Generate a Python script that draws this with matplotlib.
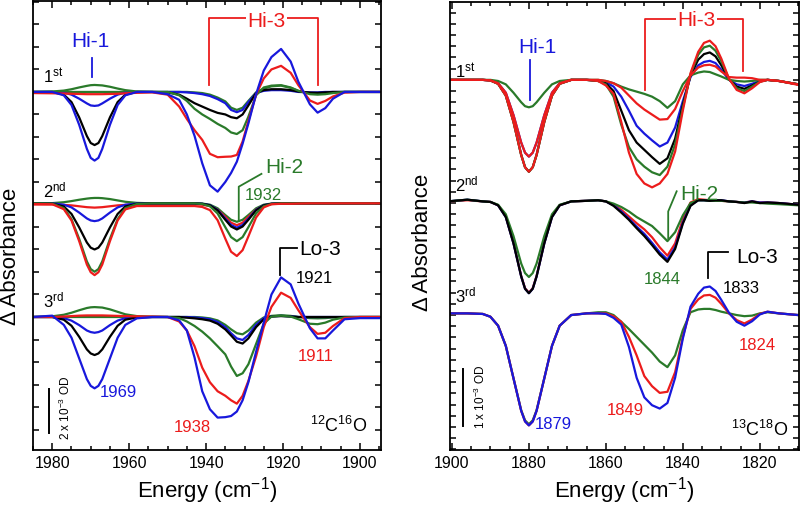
import numpy as np
import matplotlib
matplotlib.use("Agg")
import matplotlib.pyplot as plt
from matplotlib.ticker import MultipleLocator

plt.rcParams['font.family'] = ['Liberation Sans', 'DejaVu Sans']
plt.rcParams['mathtext.default'] = 'regular'

BLUE = '#1818dc'
RED = '#ec1c1c'
GREEN = '#2a7a2a'
BLACK = '#000000'

# ---------------- left panel (12C16O), energy grid in cm-1 ----------------
left_x = [1985, 1980, 1977, 1975, 1973, 1971, 1970, 1969, 1968, 1967, 1965, 1963, 1961, 1958, 1954,
          1950, 1947, 1945, 1943, 1941, 1939, 1937, 1935, 1933.5, 1932, 1930.5, 1929, 1927, 1925, 1923,
          1920.5, 1918, 1916, 1913, 1911, 1909, 1907, 1904, 1900, 1895]

# 1st spectra (units of 1e-3 OD)
l1_blue_a = ([0, 0, -0.15, -0.58, -1.46, -2.53, -2.93, -3.05, -2.93, -2.53, -1.46, -0.58, -0.15, 0, 0]
             + [-0.1, -0.35, -1.0, -1.95, -3.17, -4.15, -4.43, -4.0, -3.6, -3.1, -2.3, -1.4, -0.1, 0.95, 1.55]
             + [1.91, 1.35, 0.45, -0.55, -0.92, -0.72, -0.3, 0, 0, 0])
l1_red_a = ([-0.05, -0.06, -0.07, -0.08, -0.09, -0.1, -0.1, -0.1, -0.1, -0.1, -0.09, -0.08, -0.06, -0.04, -0.02]
            + [-0.12, -0.65, -1.2, -1.7, -2.13, -2.75, -2.9, -2.88, -2.87, -2.8, -2.2, -1.3, -0.12, 0.6, 1.0]
            + [1.16, 0.85, 0.3, -0.38, -0.53, -0.4, -0.2, -0.03, 0, 0])
l1_green_a = ([0, 0.02, 0.06, 0.12, 0.2, 0.27, 0.3, 0.31, 0.3, 0.29, 0.23, 0.15, 0.08, 0.02, 0]
              + [0, -0.15, -0.4, -0.75, -1.0, -1.2, -1.42, -1.6, -1.8, -1.87, -1.7, -1.1, -0.15, 0.2, 0.28]
              + [0.3, 0.2, 0.05, -0.1, -0.12, -0.1, -0.05, 0, 0, 0])
l1_black = ([0, 0, -0.12, -0.45, -1.13, -1.96, -2.27, -2.36, -2.27, -1.96, -1.13, -0.45, -0.12, 0, 0]
            + [-0.02, -0.12, -0.3, -0.5, -0.65, -0.8, -0.93, -1.0, -1.12, -1.17, -1.0, -0.6, -0.05, 0.08, 0.12]
            + [0.12, 0.08, 0.02, -0.03, -0.04, -0.02, 0, 0, 0, 0])
l1_blue_b = ([0, 0, -0.03, -0.12, -0.3, -0.51, -0.6, -0.62, -0.6, -0.51, -0.3, -0.12, -0.03, 0, 0]
             + [0, 0, -0.02, -0.05, -0.1, -0.18, -0.32, -0.5, -0.8, -0.9, -0.8, -0.45, -0.05, 0.05, 0.08]
             + [0.08, 0.05, 0, -0.02, -0.02, 0, 0, 0, 0, 0])
l1_green_b = ([0, 0, 0, 0, 0, 0, 0, 0, 0, 0, 0, 0, 0, 0, 0]
              + [0, 0, 0, -0.02, -0.05, -0.12, -0.25, -0.42, -0.7, -0.8, -0.7, -0.4, -0.02, 0.15, 0.25]
              + [0.28, 0.18, 0.05, -0.05, -0.06, -0.04, -0.02, 0, 0, 0])

# 2nd spectra
l2_green_a = ([0, 0.01, 0.05, 0.1, 0.16, 0.21, 0.23, 0.24, 0.24, 0.23, 0.19, 0.13, 0.07, 0.02, 0]
              + [0, 0, 0, 0, -0.01, -0.06, -0.22, -0.52, -0.73, -0.82, -0.73, -0.52, -0.22, -0.06, -0.01]
              + [0, 0, 0, 0, 0, 0, 0, 0, 0, 0])
l2_red_a = ([-0.05, -0.05, -0.07, -0.09, -0.13, -0.17, -0.18, -0.19, -0.18, -0.17, -0.13, -0.09, -0.07, -0.05, -0.04]
            + [-0.03, -0.03, -0.03, -0.04, -0.06, -0.12, -0.28, -0.6, -0.86, -0.97, -0.86, -0.6, -0.28, -0.1, -0.03]
            + [-0.02, -0.01, 0, 0, 0, 0, 0, 0, 0, 0])
l2_blue_b = ([0, 0, -0.06, -0.18, -0.41, -0.67, -0.76, -0.79, -0.76, -0.67, -0.41, -0.18, -0.06, -0.01, 0]
             + [0, 0, 0, 0, -0.02, -0.08, -0.29, -0.68, -0.96, -1.08, -0.96, -0.68, -0.29, -0.08, -0.02]
             + [0, 0, 0, 0, 0, 0, 0, 0, 0, 0])
l2_black = ([0, -0.01, -0.14, -0.47, -1.07, -1.74, -1.97, -2.05, -1.97, -1.74, -1.07, -0.47, -0.14, -0.02, 0]
            + [0, 0, 0, 0, -0.02, -0.09, -0.31, -0.73, -1.03, -1.16, -1.03, -0.73, -0.31, -0.09, -0.02]
            + [0, 0, 0, 0, 0, 0, 0, 0, 0, 0])
l2_green_b = ([0, -0.01, -0.21, -0.7, -1.58, -2.58, -2.92, -3.04, -2.92, -2.58, -1.58, -0.7, -0.21, -0.03, 0]
              + [0, 0, 0, 0, -0.03, -0.13, -0.45, -1.06, -1.5, -1.68, -1.5, -1.06, -0.45, -0.13, -0.03]
              + [0, 0, 0, 0, 0, 0, 0, 0, 0, 0])
l2_red_b = ([-0.03, -0.04, -0.26, -0.76, -1.68, -2.72, -3.06, -3.19, -3.06, -2.72, -1.68, -0.76, -0.27, -0.12, -0.12]
            + [-0.12, -0.12, -0.12, -0.12, -0.16, -0.3, -0.75, -1.57, -2.15, -2.34, -2.08, -1.47, -0.63, -0.18, -0.04]
            + [-0.02, -0.02, -0.01, 0, 0, 0, 0, 0, 0, 0])

# 3rd spectra
l3_blue_a = ([0, 0.06, -0.35, -0.92, -1.84, -2.76, -3.06, -3.17, -3.06, -2.76, -1.84, -0.92, -0.35, -0.06, 0]
             + [0, -0.15, -0.6, -1.8, -3.3, -4.1, -4.47, -4.45, -4.4, -4.2, -3.7, -2.9, -1.55, -0.25, 1.0]
             + [1.76, 1.45, 0.6, -0.5, -0.95, -0.95, -0.6, -0.1, -0.05, -0.05])
l3_red_a = ([0, 0, 0.02, 0.04, 0.06, 0.07, 0.07, 0.07, 0.07, 0.07, 0.06, 0.05, 0.04, 0.03, 0.02]
            + [0, -0.2, -0.6, -1.3, -2.25, -2.9, -3.3, -3.5, -3.7, -3.85, -3.5, -2.84, -1.75, -0.45, 0.45]
            + [1.08, 0.85, 0.3, -0.45, -0.75, -0.7, -0.4, -0.05, 0, 0])
l3_green_a = ([0, 0.03, 0.1, 0.19, 0.3, 0.4, 0.43, 0.44, 0.43, 0.42, 0.34, 0.23, 0.12, 0.04, 0.01]
              + [0, -0.05, -0.2, -0.4, -0.65, -0.95, -1.3, -1.66, -2.2, -2.62, -2.5, -2.1, -1.2, -0.3, 0.02]
              + [0.06, 0.02, -0.1, -0.3, -0.32, -0.25, -0.12, -0.02, 0, 0])
l3_black = ([0, 0, -0.12, -0.39, -0.88, -1.44, -1.62, -1.69, -1.62, -1.44, -0.88, -0.39, -0.12, -0.02, 0]
            + [0, 0, -0.03, -0.06, -0.1, -0.16, -0.3, -0.55, -0.82, -1.1, -1.18, -0.95, -0.45, -0.1, 0.02]
            + [0.04, 0.02, 0, 0, 0, 0, 0, 0, 0, 0])
l3_blue_b = ([0, 0, -0.05, -0.16, -0.36, -0.6, -0.67, -0.7, -0.67, -0.6, -0.36, -0.16, -0.05, -0.01, 0]
             + [0, 0, 0, -0.02, -0.05, -0.1, -0.22, -0.45, -0.72, -0.95, -1.02, -0.8, -0.35, -0.05, 0.03]
             + [0.05, 0.03, 0, 0, 0, 0, 0, 0, 0, 0])
l3_green_b = ([0, 0, 0, 0, 0, 0, 0, 0, 0, 0, 0, 0, 0, 0, 0]
              + [0, 0, 0, 0, -0.02, -0.06, -0.15, -0.35, -0.55, -0.72, -0.77, -0.6, -0.25, -0.02, 0.05]
              + [0.08, 0.05, 0, -0.05, -0.06, -0.05, -0.02, 0, 0, 0])

# ---------------- right panel (13C18O) ----------------
right_x = [1901, 1896, 1892, 1890, 1888, 1886, 1884, 1882, 1881, 1880, 1879, 1878, 1876, 1874, 1872, 1869, 1865,
           1862, 1860, 1858, 1856, 1854, 1852, 1850, 1848, 1846, 1844, 1842, 1840, 1838, 1836,
           1834.5, 1833, 1831.5, 1830, 1828, 1826, 1824, 1822, 1820, 1818, 1815, 1810]

r1_red_b = ([0, 0, 0, -0.01, -0.07, -0.28, -0.75, -1.34, -1.56, -1.64, -1.56, -1.34, -0.75, -0.28, -0.07, 0, 0]
            + [-0.02, -0.1, -0.25, -0.75, -1.3, -1.68, -1.85, -1.92, -1.85, -1.68, -1.28, -0.55, 0.12, 0.5,
               0.66, 0.7, 0.6, 0.38, 0.02, -0.18, -0.24, -0.15, -0.04, 0, -0.02, -0.09])
r1_green_b = ([0, 0, 0, -0.01, -0.07, -0.28, -0.75, -1.34, -1.56, -1.64, -1.56, -1.34, -0.75, -0.28, -0.07, 0, 0]
              + [-0.02, -0.08, -0.3, -0.8, -1.2, -1.42, -1.55, -1.65, -1.7, -1.55, -1.15, -0.5, 0.1, 0.45,
                 0.58, 0.61, 0.52, 0.33, 0.02, -0.15, -0.2, -0.12, -0.03, 0, -0.02, -0.08])
r1_black = ([0, 0, 0, -0.01, -0.07, -0.28, -0.75, -1.34, -1.56, -1.64, -1.56, -1.34, -0.75, -0.28, -0.07, 0, 0]
            + [-0.02, -0.06, -0.2, -0.55, -0.9, -1.12, -1.25, -1.38, -1.5, -1.4, -1.05, -0.45, 0.08, 0.36,
               0.46, 0.49, 0.42, 0.26, 0.01, -0.12, -0.16, -0.1, -0.03, 0, -0.02, -0.08])
r1_blue = ([0, 0, 0, -0.01, -0.06, -0.23, -0.63, -1.12, -1.3, -1.37, -1.3, -1.12, -0.63, -0.23, -0.06, 0, 0]
           + [-0.01, -0.04, -0.12, -0.3, -0.55, -0.82, -0.96, -1.08, -1.19, -1.12, -0.85, -0.38, 0.05, 0.26,
              0.32, 0.34, 0.3, 0.18, 0, -0.08, -0.11, -0.07, -0.02, 0, -0.02, -0.08])
r1_red_a = ([0, 0, 0, -0.01, -0.06, -0.23, -0.63, -1.12, -1.3, -1.37, -1.3, -1.12, -0.63, -0.23, -0.06, 0, 0]
            + [0, -0.02, -0.06, -0.14, -0.28, -0.42, -0.53, -0.62, -0.71, -0.7, -0.52, -0.2, 0.08, 0.22,
               0.26, 0.27, 0.24, 0.15, 0.05, 0.04, 0.04, 0.03, 0, 0, -0.02, -0.08])
r1_green_a = ([0, 0, 0, 0, -0.02, -0.08, -0.23, -0.4, -0.47, -0.49, -0.47, -0.4, -0.23, -0.08, -0.02, 0, 0]
              + [0, -0.02, -0.06, -0.12, -0.17, -0.21, -0.25, -0.3, -0.38, -0.5, -0.38, -0.08, 0.08, 0.13,
                 0.15, 0.14, 0.1, 0.06, 0, -0.02, -0.03, -0.02, 0, 0, -0.02, -0.08])

r2_red = ([0, 0.02, 0, -0.01, -0.07, -0.27, -0.74, -1.33, -1.55, -1.63, -1.55, -1.33, -0.74, -0.27, -0.07, 0, 0.01]
          + [0.02, 0, -0.06, -0.15, -0.27, -0.39, -0.5, -0.64, -0.82, -0.97, -0.75, -0.32, -0.02, 0.04,
             0.03, 0.02, 0.02, 0.01, 0, -0.01, -0.02, 0, -0.02, -0.02, -0.03, -0.06])
r2_blue = ([0, 0.03, 0, -0.01, -0.07, -0.28, -0.75, -1.34, -1.56, -1.64, -1.56, -1.34, -0.75, -0.28, -0.07, 0, 0.01]
           + [0.02, 0, -0.07, -0.18, -0.31, -0.45, -0.58, -0.74, -0.91, -1.04, -0.82, -0.38, -0.07, 0.02,
              0.02, 0.01, 0.02, 0.02, 0, -0.01, -0.02, 0, -0.02, -0.02, -0.03, -0.06])
r2_green = ([0, 0.03, 0, -0.01, -0.06, -0.23, -0.62, -1.11, -1.28, -1.35, -1.28, -1.11, -0.62, -0.23, -0.06, 0, 0.01]
            + [0.02, 0, -0.04, -0.1, -0.18, -0.28, -0.36, -0.44, -0.57, -0.71, -0.55, -0.25, -0.03, 0.02,
               0.02, 0.01, 0.01, 0.01, 0, -0.01, -0.02, -0.02, -0.03, -0.04, -0.05, -0.07])
r2_black = ([0, 0.03, 0, -0.01, -0.07, -0.28, -0.75, -1.34, -1.56, -1.64, -1.56, -1.34, -0.75, -0.28, -0.07, 0, 0.01]
            + [0.02, 0, -0.08, -0.2, -0.33, -0.48, -0.62, -0.78, -0.95, -1.08, -0.85, -0.4, -0.08, 0.02,
               0.02, 0.01, 0.02, 0.02, 0, -0.01, -0.03, 0, -0.03, -0.02, -0.03, -0.06])

r3_green = ([0, 0, -0.01, -0.06, -0.22, -0.58, -1.16, -1.73, -1.91, -1.98, -1.91, -1.73, -1.16, -0.58, -0.22, -0.03, 0]
            + [0.02, 0.02, -0.03, -0.15, -0.28, -0.42, -0.56, -0.7, -0.86, -0.96, -0.75, -0.3, 0.02, 0.07,
               0.08, 0.08, 0.06, 0.03, 0, -0.03, -0.05, -0.04, 0, 0.02, 0, -0.03])
r3_red = ([0, 0, -0.01, -0.06, -0.22, -0.58, -1.16, -1.74, -1.93, -2.0, -1.93, -1.74, -1.16, -0.58, -0.22, -0.03, 0]
          + [0, 0, -0.05, -0.15, -0.42, -0.75, -1.12, -1.3, -1.42, -1.4, -1.05, -0.42, 0.08, 0.25,
             0.32, 0.33, 0.28, 0.17, 0, -0.12, -0.18, -0.11, -0.01, 0.03, 0, -0.03])
r3_blue = ([0, 0, -0.01, -0.06, -0.22, -0.58, -1.16, -1.74, -1.93, -2.0, -1.93, -1.74, -1.16, -0.58, -0.22, -0.03, 0]
           + [0, -0.01, -0.08, -0.2, -0.6, -1.15, -1.5, -1.64, -1.7, -1.6, -1.15, -0.45, 0.12, 0.35,
              0.46, 0.48, 0.4, 0.24, 0.01, -0.15, -0.22, -0.14, -0.02, 0.03, 0, -0.03])

# vertical offsets of the stacked spectra
left_offsets = [0, -4.95, -10.0]
right_offsets = [0, -2.17, -4.17]

left_groups = [
    [(l1_green_b, GREEN), (l1_blue_b, BLUE), (l1_black, BLACK), (l1_green_a, GREEN), (l1_red_a, RED), (l1_blue_a, BLUE)],
    [(l2_green_a, GREEN), (l2_red_a, RED), (l2_blue_b, BLUE), (l2_black, BLACK), (l2_green_b, GREEN), (l2_red_b, RED)],
    [(l3_green_b, GREEN), (l3_blue_b, BLUE), (l3_black, BLACK), (l3_green_a, GREEN), (l3_red_a, RED), (l3_blue_a, BLUE)],
]
right_groups = [
    [(r1_blue, BLUE), (r1_black, BLACK), (r1_green_b, GREEN), (r1_green_a, GREEN), (r1_red_a, RED), (r1_red_b, RED)],
    [(r2_red, RED), (r2_blue, BLUE), (r2_green, GREEN), (r2_black, BLACK)],
    [(r3_green, GREEN), (r3_red, RED), (r3_blue, BLUE)],
]

fig = plt.figure(figsize=(8, 5.07), dpi=100)
axL = fig.add_axes([0.0413, 0.1124, 0.435, 0.8856])
axR = fig.add_axes([0.5625, 0.1124, 0.4363, 0.8836])

LW = 1.6
for groups, offs, xs, ax in [(left_groups, left_offsets, left_x, axL),
                             (right_groups, right_offsets, right_x, axR)]:
    for grp, off in zip(groups, offs):
        for vals, col in grp:
            ax.plot(xs, np.array(vals) + off, color=col, lw=LW, solid_joinstyle='round')

# axes styling
axL.set_xlim(1985, 1894.5)
axL.set_ylim(-15.91, 4.04)
axR.set_xlim(1900.5, 1809.8)
axR.set_ylim(-6.61, 1.39)

axL.set_xticks([1980, 1960, 1940, 1920, 1900])
axR.set_xticks([1900, 1880, 1860, 1840, 1820])
axL.yaxis.set_major_locator(MultipleLocator(1))
axR.yaxis.set_major_locator(MultipleLocator(0.2))
for ax in (axL, axR):
    ax.xaxis.set_minor_locator(MultipleLocator(5))
    ax.tick_params(which='both', direction='in', top=True, right=True, width=1.1)
    ax.tick_params(which='major', axis='x', length=5, labelsize=11.5, pad=4)
    ax.tick_params(which='minor', axis='x', length=3)
    ax.tick_params(axis='y', length=4, labelleft=False)
    for s in ax.spines.values():
        s.set_linewidth(1.3)
    ax.set_xlabel('Energy (cm$^{-1}$)', fontsize=16, labelpad=3)
    ax.set_ylabel('\u0394 Absorbance', fontsize=16)
axL.yaxis.set_label_coords(-0.035, 0.432)
axR.yaxis.set_label_coords(-0.049, 0.464)

# spectrum order labels
for t, y in [('1$^{st}$', 0.4), ('2$^{nd}$', -4.67), ('3$^{rd}$', -9.56)]:
    axL.text(1982.4, y, t, fontsize=12, ha='left', va='baseline')
for t, y in [('1$^{st}$', 0.03), ('2$^{nd}$', -2.0), ('3$^{rd}$', -3.98)]:
    axR.text(1899.3, y, t, fontsize=12, ha='left', va='baseline')

# ---- left annotations ----
axL.text(1970.1, 2.24, 'Hi-1', color=BLUE, fontsize=15, ha='center', va='center')
axL.plot([1969.7, 1969.7], [1.5, 0.65], color=BLUE, lw=1.3)
axL.plot([1939.3, 1939.3, 1910.8, 1910.8], [0.31, 3.27, 3.27, 0.31], color=RED, lw=1.3)
axL.text(1924.3, 3.13, 'Hi-3', color=RED, fontsize=15, ha='center', va='center',
         bbox=dict(facecolor='white', edgecolor='none', pad=1))
axL.plot([1925.6, 1931.5, 1931.5], [-3.64, -4.21, -5.69], color=GREEN, lw=1.3)
axL.text(1919.6, -3.36, 'Hi-2', color=GREEN, fontsize=15, ha='center', va='center')
axL.text(1925.1, -4.62, '1932', color=GREEN, fontsize=12, ha='center', va='center')
axL.plot([1916.4, 1920.7, 1920.7], [-6.95, -6.95, -8.13], color=BLACK, lw=1.3)
axL.text(1910.3, -6.98, 'Lo-3', color=BLACK, fontsize=15, ha='center', va='center')
axL.text(1911.9, -8.31, '1921', color=BLACK, fontsize=12, ha='center', va='center')
axL.text(1962.8, -13.36, '1969', color=BLUE, fontsize=12, ha='center', va='center')
axL.text(1943.6, -14.9, '1938', color=RED, fontsize=12, ha='center', va='center')
axL.text(1911.4, -11.76, '1911', color=RED, fontsize=12, ha='center', va='center')
axL.text(1905.4, -14.85, '$^{12}$C$^{16}$O', fontsize=13, ha='center', va='center')
axL.plot([1980.8, 1980.8], [-15.17, -13.21], color=BLACK, lw=1.4)
axL.text(1976.7, -14.06, '2 x 10$^{-3}$ OD', fontsize=8.5, rotation=90, ha='center', va='center')

# ---- right annotations ----
axR.text(1877.8, 0.57, 'Hi-1', color=BLUE, fontsize=15, ha='center', va='center')
axR.plot([1879.7, 1879.7], [0.36, -0.36], color=BLUE, lw=1.3)
axR.plot([1849.9, 1849.9, 1824.3, 1824.3], [-0.18, 1.09, 1.09, 0.15], color=RED, lw=1.3)
axR.text(1836.4, 1.06, 'Hi-3', color=RED, fontsize=15, ha='center', va='center',
         bbox=dict(facecolor='white', edgecolor='none', pad=1))
axR.plot([1841.6, 1843.8, 1843.8], [-1.99, -2.35, -2.83], color=GREEN, lw=1.3)
axR.text(1835.8, -2.04, 'Hi-2', color=GREEN, fontsize=15, ha='center', va='center')
axR.text(1845.3, -3.56, '1844', color=GREEN, fontsize=12, ha='center', va='center')
axR.plot([1828.2, 1833.4, 1833.4], [-3.07, -3.07, -3.54], color=BLACK, lw=1.3)
axR.text(1820.8, -3.18, 'Lo-3', color=BLACK, fontsize=15, ha='center', va='center')
axR.text(1824.7, -3.72, '1833', color=BLACK, fontsize=12, ha='center', va='center')
axR.text(1873.7, -6.15, '1879', color=BLUE, fontsize=12, ha='center', va='center')
axR.text(1855.0, -5.91, '1849', color=RED, fontsize=12, ha='center', va='center')
axR.text(1820.6, -4.75, '1824', color=RED, fontsize=12, ha='center', va='center')
axR.text(1820.0, -6.25, '$^{13}$C$^{18}$O', fontsize=13, ha='center', va='center')
axR.plot([1897.0, 1897.0], [-6.18, -5.17], color=BLACK, lw=1.4)
axR.text(1892.7, -5.67, '1 x 10$^{-3}$ OD', fontsize=8.5, rotation=90, ha='center', va='center')

fig.savefig('out.png', dpi=100)
